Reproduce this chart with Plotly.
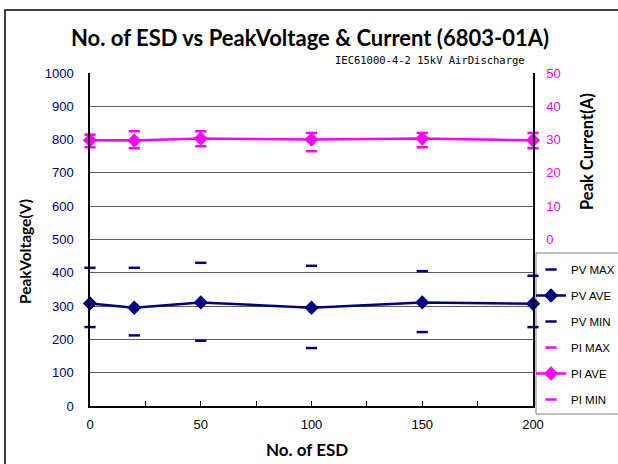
import plotly.graph_objects as go

# Data
esd_counts = [0, 20, 50, 100, 150, 200]
pv_max = [415, 415, 430, 421, 405, 391]
pv_ave = [308, 295, 311, 295, 311, 307]
pv_min = [237, 212, 196, 174, 222, 237]
pi_max = [31.5, 32.5, 32.5, 32.0, 32.0, 32.0]
pi_ave = [29.8, 29.7, 30.3, 30.0, 30.3, 29.8]
pi_min = [27.7, 27.4, 28.0, 26.5, 27.7, 27.4]

NAVY = "#000080"
MAG = "#FF00FF"

fig = go.Figure()

dash_marker = lambda c: dict(symbol="line-ew", size=8, line=dict(color=c, width=2.5))

fig.add_trace(go.Scatter(x=esd_counts, y=pv_max, mode="markers", name="PV MAX",
                         marker=dash_marker(NAVY), legendgroup="a", cliponaxis=False))
fig.add_trace(go.Scatter(x=esd_counts, y=pv_ave, mode="lines+markers", name="PV AVE",
                         line=dict(color=NAVY, width=2.5),
                         marker=dict(symbol="diamond", size=11, color=NAVY),
                         legendgroup="b", cliponaxis=False))
fig.add_trace(go.Scatter(x=esd_counts, y=pv_min, mode="markers", name="PV MIN",
                         marker=dash_marker(NAVY), legendgroup="c", cliponaxis=False))
fig.add_trace(go.Scatter(x=esd_counts, y=pi_max, mode="markers", name="PI MAX", yaxis="y2",
                         marker=dash_marker(MAG), legendgroup="d", cliponaxis=False))
fig.add_trace(go.Scatter(x=esd_counts, y=pi_ave, mode="lines+markers", name="PI AVE", yaxis="y2",
                         line=dict(color=MAG, width=2.5),
                         marker=dict(symbol="diamond", size=11, color=MAG),
                         legendgroup="e", cliponaxis=False))
fig.add_trace(go.Scatter(x=esd_counts, y=pi_min, mode="markers", name="PI MIN", yaxis="y2",
                         marker=dash_marker(MAG), legendgroup="f", cliponaxis=False))

tick_font = dict(family="Liberation Sans, Arial, sans-serif", size=13)

fig.update_layout(
    width=618, height=464,
    margin=dict(l=90, r=85, t=73, b=58, autoexpand=False),
    paper_bgcolor="white", plot_bgcolor="white",
    title=dict(text="<b>No. of ESD vs PeakVoltage &amp; Current (6803-01A)</b>",
               x=310/618, xanchor="center", y=1-38/464, yanchor="middle",
               font=dict(family="Lato, Noto Sans, sans-serif", size=22, color="black")),
    xaxis=dict(range=[0, 200], tickvals=[0, 50, 100, 150, 200],
               ticks="inside", ticklen=5, tickcolor="black",
               minor=dict(dtick=25, ticks="inside", ticklen=5, tickcolor="black"),
               showline=True, linecolor="black", linewidth=1.5,
               showgrid=False, zeroline=False,
               tickfont=dict(tick_font, color="black"), ticklabelstandoff=6),
    yaxis=dict(range=[0, 1000], dtick=100, showline=True, linecolor="black", linewidth=1.5,
               showgrid=True, gridcolor="#606060", gridwidth=1, zeroline=False,
               ticks="", tickfont=dict(tick_font, color=NAVY), ticklabelstandoff=12),
    yaxis2=dict(range=[-50, 50], tickvals=[0, 10, 20, 30, 40, 50], overlaying="y", side="right",
                showline=True, linecolor="black", linewidth=1.5, showgrid=False, zeroline=False,
                ticks="", tickfont=dict(tick_font, color=MAG), ticklabelstandoff=9),
    legend=dict(x=(531-90)/443, xanchor="left", y=(406-255)/333, yanchor="top",
                borderwidth=0, bgcolor="rgba(0,0,0,0)",
                font=dict(family="Liberation Sans, Arial, sans-serif", size=11.5, color="black"),
                tracegroupgap=7, itemwidth=30),
    showlegend=True,
)

fig.add_annotation(text="IEC61000-4-2 15kV AirDischarge", xref="paper", yref="paper",
                   x=(527-90)/443, y=(406-60)/333, xanchor="right", yanchor="middle",
                   showarrow=False, font=dict(family="DejaVu Sans Mono, monospace", size=10.5, color="black"))
fig.add_annotation(text="<b>PeakVoltage(V)</b>", xref="paper", yref="paper",
                   x=(25-90)/443, y=(406-252)/333, xanchor="center", yanchor="middle", textangle=-90,
                   showarrow=False, font=dict(family="Lato, Noto Sans, sans-serif", size=15.5, color="black"))
fig.add_annotation(text="<b>Peak Current(A)</b>", xref="paper", yref="paper",
                   x=(587-90)/443, y=(406-152)/333, xanchor="center", yanchor="middle", textangle=-90,
                   showarrow=False, font=dict(family="Lato, Noto Sans, sans-serif", size=16.5, color="black"))
fig.add_annotation(text="<b>No. of ESD</b>", xref="paper", yref="paper",
                   x=(307-90)/443, y=(406-449)/333, xanchor="center", yanchor="middle",
                   showarrow=False, font=dict(family="Lato, Noto Sans, sans-serif", size=17, color="black"))

# outer chart frame
fig.add_shape(type="rect", xref="paper", yref="paper",
              x0=(5-90)/443, x1=(640-90)/443, y0=(406-480)/333, y1=(406-10)/333,
              line=dict(color="black", width=1.5), fillcolor="rgba(0,0,0,0)", layer="below")
# legend frame
fig.add_shape(type="rect", xref="paper", yref="paper",
              x0=(536-90)/443, x1=(640-90)/443, y0=(406-414)/333, y1=(406-253)/333,
              line=dict(color="#808080", width=1), fillcolor="rgba(0,0,0,0)", layer="below")

fig.write_html("out.html", config={"displayModeBar": False},
               post_script="document.body.style.margin='0';document.body.style.padding='0';")
